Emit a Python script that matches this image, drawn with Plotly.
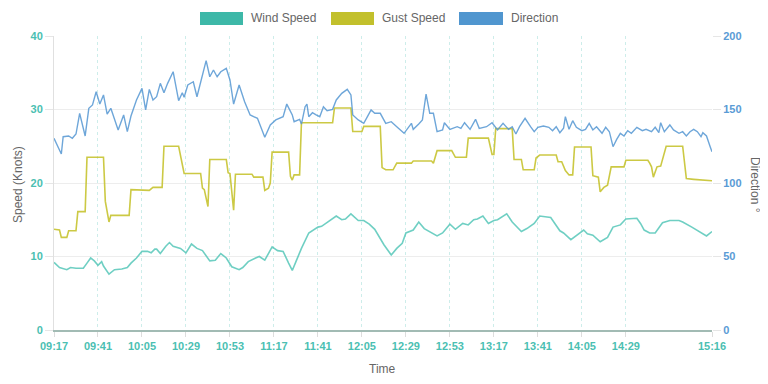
import plotly.graph_objects as go

DAY = "2024-01-01 "

WIND_TIME = ["09:17","09:20","09:24","09:26","09:29","09:33","09:35","09:37","09:39","09:41","09:43","09:44","09:47","09:50","09:54","09:57","09:59",
             "10:02","10:05","10:08","10:10","10:12","10:13","10:15","10:18","10:20","10:22","10:24","10:26","10:29","10:32","10:35","10:38","10:42","10:45","10:48","10:51","10:54","10:58",
             "11:00","11:03","11:07","11:09","11:12","11:16","11:19","11:22","11:25","11:27","11:29","11:32","11:36","11:39","11:41","11:43","11:46","11:49","11:51","11:54","11:56","11:59",
             "12:01","12:03","12:06","12:09","12:12","12:15","12:17","12:21","12:24","12:27","12:29","12:33","12:36","12:39","12:42","12:46","12:49","12:53","12:56",
             "13:00","13:03","13:06","13:08","13:11","13:14","13:17","13:19","13:24","13:27","13:32","13:35","13:39","13:42","13:48","13:53","13:55","13:59",
             "14:02","14:06","14:08","14:11","14:15","14:19","14:22","14:26","14:29","14:32","14:35","14:37","14:39","14:42","14:45","14:49","14:53","14:58",
             "15:00","15:05","15:09","15:13","15:16"]
WIND_SPEED = [9.2,8.5,8.2,8.5,8.4,8.4,9.1,9.8,9.4,8.8,9.3,8.7,7.6,8.2,8.3,8.5,9.1,
              9.8,10.7,10.7,10.5,11.0,11.0,10.4,11.4,11.9,11.4,11.3,11.1,10.5,11.7,11.1,10.8,9.4,9.5,10.4,9.8,8.6,8.2,
              8.5,9.3,9.8,10.0,9.5,11.3,10.8,10.7,9.1,8.1,9.3,11.1,13.2,13.7,14.0,14.1,14.6,15.1,15.5,15.0,15.1,15.8,
              15.3,14.9,14.9,14.4,13.7,12.5,11.6,10.2,11.1,11.8,13.2,13.6,14.7,13.8,13.4,12.8,13.2,14.4,13.7,
              14.5,14.3,15.0,15.1,15.5,14.5,14.9,15.0,15.8,14.7,13.4,13.8,14.5,15.5,15.3,13.5,13.2,12.3,
              12.9,13.6,13.1,12.9,12.0,12.6,14.0,14.3,15.1,15.1,15.2,14.5,13.6,13.2,13.2,14.6,14.9,14.9,
              14.7,14.0,13.4,12.8,13.4]

GUST_TIME = ["09:17","09:20","09:21","09:24","09:25","09:29","09:30","09:34","09:35","09:44","09:45","09:47","09:48","09:58","09:59",
             "10:08","10:09","10:11","10:16","10:17","10:25","10:28","10:37","10:38","10:39","10:41","10:42","10:51","10:52","10:53","10:55","10:56",
             "11:05","11:06","11:11","11:12","11:14","11:15","11:16","11:25","11:26","11:27","11:28","11:31","11:32","11:49","11:50","11:59",
             "12:00","12:05","12:06","12:15","12:16","12:18","12:22","12:24","12:32","12:33","12:43","12:44","12:46","12:54","12:56",
             "13:02","13:03","13:14","13:16","13:17","13:18","13:27","13:28","13:32","13:33","13:39","13:40","13:42","13:51","13:52","13:54","13:56","13:58",
             "14:00","14:01","14:10","14:11","14:14","14:15","14:17","14:19","14:21","14:28","14:29","14:41","14:42","14:43","14:44","14:46","14:48","14:51",
             "15:00","15:02","15:06","15:11","15:16"]
GUST_SPEED = [13.7,13.6,12.6,12.6,13.5,13.5,16.1,16.1,23.5,23.5,17.5,14.7,15.6,15.6,19.1,
              19.1,19.0,19.4,19.4,25.0,25.0,21.3,21.3,19.3,19.1,16.8,23.2,23.2,21.4,21.3,16.3,21.2,
              21.2,20.8,20.8,19.0,19.3,20.0,24.2,24.2,20.9,20.4,21.1,21.1,28.2,28.2,30.2,30.2,
              27.0,27.0,27.7,27.7,22.1,21.8,21.8,22.7,22.7,23.0,23.0,22.7,24.4,24.4,23.5,
              23.5,26.1,26.1,23.9,23.9,27.4,27.4,23.2,23.2,21.8,21.8,23.4,23.8,23.8,22.9,22.9,21.7,21.1,
              21.1,24.9,24.9,21.0,20.8,18.8,19.4,19.7,22.2,22.2,23.1,23.1,22.7,22.2,20.8,22.2,22.3,25.0,
              25.0,20.6,20.5,20.4,20.3]

DIR_TIME = ["09:17","09:21","09:22","09:25","09:27","09:29","09:31","09:34","09:36","09:38","09:40","09:42","09:44","09:46","09:48","09:52","09:55","09:57","09:59",
            "10:02","10:05","10:07","10:09","10:11","10:13","10:15","10:17","10:19","10:22","10:25","10:27","10:28","10:30","10:33","10:35","10:38","10:40","10:42","10:44","10:46","10:48","10:51","10:53","10:55","10:58",
            "11:01","11:04","11:08","11:12","11:15","11:18","11:22","11:24","11:27","11:28","11:31","11:32","11:34","11:35","11:36","11:38","11:40","11:42","11:44","11:46","11:49","11:51","11:54","11:57","11:59",
            "12:00","12:03","12:06","12:08","12:10","12:12","12:15","12:18","12:21","12:24","12:28","12:32","12:33","12:36","12:38","12:40","12:42","12:44","12:46","12:49","12:50","12:53","12:57","12:59",
            "13:01","13:04","13:07","13:09","13:13","13:16","13:19","13:22","13:25","13:27","13:29","13:31","13:34","13:37","13:39","13:41","13:44","13:47","13:49","13:51","13:53","13:55","13:56","13:58",
            "14:00","14:02","14:05","14:07","14:09","14:11","14:13","14:16","14:18","14:20","14:22","14:24","14:26","14:28","14:30","14:32","14:35","14:38","14:40","14:43","14:45","14:47","14:48","14:50","14:53","14:55","14:58",
            "15:00","15:02","15:04","15:06","15:08","15:10","15:11","15:13","15:15","15:16"]
DIRECTION = [130.4,119.7,131.5,132.0,130.4,133.3,147.4,132.0,150.8,153.1,162.1,153.7,159.9,146.9,150.8,136.1,146.3,134.9,145.6,
             156.5,164.4,149.7,163.7,156.5,158.7,167.8,161.4,167.8,175.7,156.0,161.4,158.3,166.7,168.9,158.7,172.3,183.2,172.3,176.9,172.3,175.7,178.0,170.1,153.7,166.7,
             155.3,146.3,144.0,131.1,139.5,142.9,145.1,153.7,146.3,141.7,143.3,140.1,151.9,153.7,145.1,147.8,146.3,145.1,151.9,149.2,150.1,156.5,161.0,163.7,159.9,
             146.3,142.9,140.6,145.1,149.7,147.4,147.4,140.6,141.7,138.3,133.8,140.6,136.5,140.1,142.9,160.5,147.4,147.4,134.9,136.1,141.0,136.5,138.3,137.2,
             141.0,136.5,143.3,137.2,138.3,141.0,136.1,140.6,136.5,138.3,133.3,138.3,144.0,138.3,134.9,137.9,138.8,137.9,135.6,138.3,134.2,137.2,145.1,136.5,
             142.4,137.9,135.6,136.5,140.6,136.1,138.3,133.8,137.9,134.9,124.7,129.7,133.8,132.0,135.6,133.8,137.9,135.6,136.5,134.9,137.9,134.2,141.0,134.9,139.5,136.1,133.8,
             134.9,132.0,134.9,136.5,134.9,131.5,134.2,132.0,124.7,121.3]

TICK_LABELS = ["09:17","09:41","10:05","10:29","10:53","11:17","11:41","12:05","12:29","12:53","13:17","13:41","14:05","14:29","15:16"]

SERIES_NAMES = ["Wind Speed", "Gust Speed", "Direction"]
LEGEND_COLORS = ["#3db8a8", "#c2c02c", "#5096cf"]
LINE_COLORS = ["rgba(75,195,180,0.8)", "rgba(195,192,35,0.85)", "rgba(85,150,210,0.85)"]

TEAL = "#4bbfb2"
BLUE = "#5a9bd5"
GRAY = "#666666"
FONT = "Liberation Sans, Arial, sans-serif"

# the page places the figure 8px in from the top-left (default body margin)
OFF = 8
W, H = 768 - OFF, 384 - OFF
L, T = 54 - OFF, 36 - OFF
R = W - (712 - OFF)
B = H - (330 - OFF)
PW, PH = W - L - R, H - T - B


def px_x(px):
    return (px - OFF - L) / PW


def px_y(py):
    return (T + PH - (py - OFF)) / PH


def dt(ts):
    return [DAY + t for t in ts]


fig = go.Figure()
fig.add_trace(go.Scatter(x=dt(WIND_TIME), y=WIND_SPEED, mode="lines", name=SERIES_NAMES[0],
                         line=dict(color=LINE_COLORS[0], width=1.6), yaxis="y"))
fig.add_trace(go.Scatter(x=dt(GUST_TIME), y=GUST_SPEED, mode="lines", name=SERIES_NAMES[1],
                         line=dict(color=LINE_COLORS[1], width=1.6), yaxis="y"))
fig.add_trace(go.Scatter(x=dt(DIR_TIME), y=DIRECTION, mode="lines", name=SERIES_NAMES[2],
                         line=dict(color=LINE_COLORS[2], width=1.4), yaxis="y2"))

shapes = []
annotations = []
legend_boxes = [(200, 243), (331, 374), (459, 503)]
legend_text_x = [249, 380, 509]
for (x0, x1), tx, name, col in zip(legend_boxes, legend_text_x, SERIES_NAMES, LEGEND_COLORS):
    shapes.append(dict(type="rect", xref="paper", yref="paper",
                       x0=px_x(x0), x1=px_x(x1), y0=px_y(25), y1=px_y(12),
                       fillcolor=col, line=dict(width=0)))
    annotations.append(dict(text=name, xref="paper", yref="paper", x=px_x(tx), y=px_y(18.5),
                            xanchor="left", yanchor="middle", showarrow=False,
                            font=dict(family=FONT, size=12, color=GRAY)))

annotations.append(dict(text="Speed (Knots)", xref="paper", yref="paper", x=px_x(18), y=px_y(185),
                        textangle=-90, showarrow=False, xanchor="center", yanchor="middle",
                        font=dict(family=FONT, size=12, color=GRAY)))
annotations.append(dict(text="Direction °", xref="paper", yref="paper", x=px_x(755), y=px_y(185),
                        textangle=90, showarrow=False, xanchor="center", yanchor="middle",
                        font=dict(family=FONT, size=12, color=GRAY)))
annotations.append(dict(text="Time", xref="paper", yref="paper", x=px_x(382), y=px_y(369),
                        showarrow=False, xanchor="center", yanchor="middle",
                        font=dict(family=FONT, size=12, color=GRAY)))

fig.update_layout(
    width=W, height=H,
    margin=dict(l=L, r=R, t=T, b=B, autoexpand=False),
    paper_bgcolor="white", plot_bgcolor="white",
    showlegend=False,
    font=dict(family=FONT, size=11, color=GRAY),
    shapes=shapes, annotations=annotations,
    xaxis=dict(
        type="date",
        range=[DAY + TICK_LABELS[0], DAY + TICK_LABELS[-1]],
        tickmode="array", tickvals=dt(TICK_LABELS), ticktext=TICK_LABELS,
        tickfont=dict(family=FONT, size=11, color=TEAL, weight="bold"),
        showgrid=True, gridcolor="rgba(75,192,180,0.28)", griddash="dot", gridwidth=1,
        ticks="outside", ticklen=5, tickcolor="#dddddd",
        showline=True, linecolor="#a2bbb4", linewidth=2,
        zeroline=False, fixedrange=True,
    ),
    yaxis=dict(
        range=[0, 40], dtick=10, tick0=0,
        tickfont=dict(family=FONT, size=11, color=TEAL, weight="bold"),
        showgrid=True, gridcolor="#ededed", gridwidth=1,
        ticks="outside", ticklen=8, tickcolor="#e6e6e6",
        showline=True, linecolor="#e0e0e0", linewidth=1,
        zeroline=False,
    ),
    yaxis2=dict(
        range=[0, 200], dtick=50, tick0=0, overlaying="y", side="right",
        tickfont=dict(family=FONT, size=11, color=BLUE, weight="bold"),
        showgrid=False,
        ticks="outside", ticklen=8, tickcolor="#e6e6e6",
        showline=False, zeroline=False,
    ),
)

fig.write_html("out.html")
